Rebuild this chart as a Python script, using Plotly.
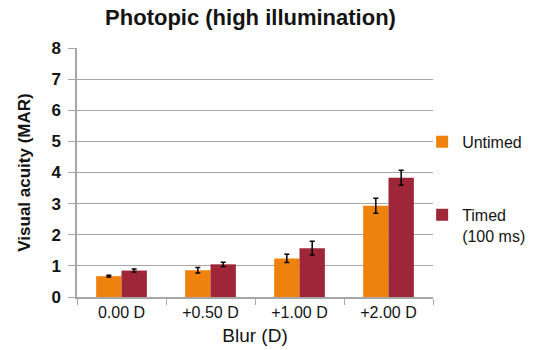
import plotly.graph_objects as go

# Blur levels and mean visual acuity (MAR) with error bar half-widths
blur_levels = ["0.00 D", "+0.50 D", "+1.00 D", "+2.00 D"]
untimed = [0.67, 0.86, 1.24, 2.93]
untimed_err = [0.03, 0.09, 0.13, 0.24]
timed = [0.85, 1.05, 1.57, 3.83]
timed_err = [0.05, 0.07, 0.22, 0.24]

ORANGE = "#EF820D"
MAROON = "#9E2638"
TEXT = "#141414"
GRID = "#a6a6a6"
FONT = "Liberation Sans, Arial, sans-serif"

fig = go.Figure()
fig.add_trace(go.Bar(
    x=blur_levels, y=untimed, name="Untimed", marker_color=ORANGE,
    marker_line_width=0, legendgroup="a",
    error_y=dict(type="data", array=untimed_err, color="black", thickness=1.5, width=2.5),
))
fig.add_trace(go.Bar(
    x=blur_levels, y=timed, name="Timed<br>(100 ms)", marker_color=MAROON,
    marker_line_width=0, legendgroup="b",
    error_y=dict(type="data", array=timed_err, color="black", thickness=1.5, width=2.5),
))

fig.update_layout(
    width=533, height=350,
    margin=dict(l=77, r=100, t=48, b=53, autoexpand=False),
    paper_bgcolor="white", plot_bgcolor="white",
    barmode="group", bargap=0.43, bargroupgap=0,
    font=dict(family=FONT, color=TEXT, size=16),
    title=dict(text="<b>Photopic (high illumination)</b>", x=0.47, xanchor="center",
               y=0.95, yanchor="middle", font=dict(size=22, color=TEXT)),
    legend=dict(xref="container", yref="container", x=0.792, xanchor="left",
                y=0.643, yanchor="top", valign="top",
                font=dict(size=16, color=TEXT), traceorder="grouped",
                tracegroupgap=49, itemwidth=30, bgcolor="rgba(0,0,0,0)"),
    showlegend=True,
)
fig.update_xaxes(
    showline=True, linecolor=GRID, linewidth=1.5,
    ticks="outside", tickson="boundaries", ticklen=6, tickcolor=GRID,
    tickfont=dict(size=16, color=TEXT),
    title=dict(text="Blur (D)", font=dict(size=19, color=TEXT), standoff=9),
)
fig.update_yaxes(
    range=[0, 8], dtick=1, showgrid=True, gridcolor=GRID, gridwidth=1,
    showline=True, linecolor=GRID, linewidth=1.5,
    ticks="outside", ticklen=7, tickcolor=GRID, zeroline=False,
    tickfont=dict(size=17, color=TEXT, weight="bold"), ticklabelstandoff=4,
    title=dict(text="<b>Visual acuity (MAR)</b>", font=dict(size=17, color=TEXT), standoff=16),
)

fig.write_html("out.html")
